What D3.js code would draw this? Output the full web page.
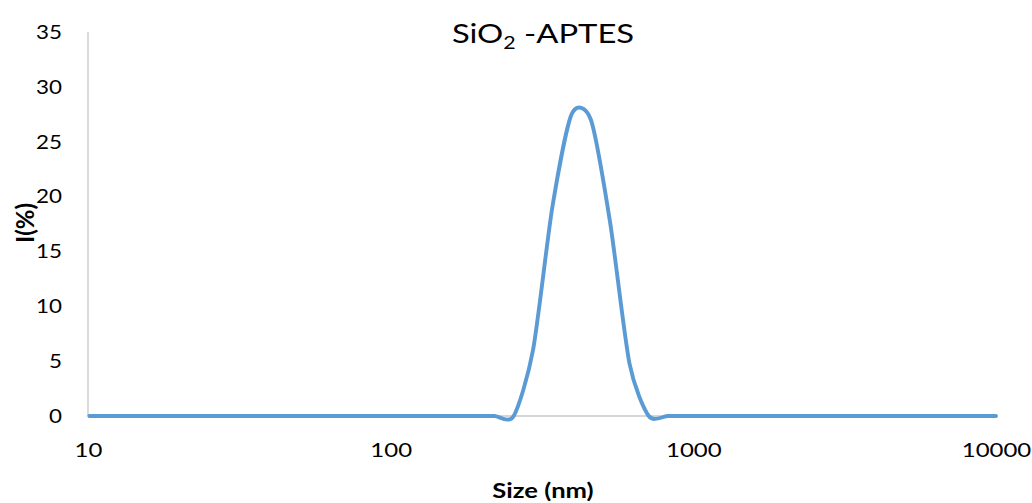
<!DOCTYPE html>
<html>
<head>
<meta charset="utf-8">
<script src="https://cdn.jsdelivr.net/npm/d3@7"></script>
<style>
  html, body { margin: 0; padding: 0; background: #fff; }
  svg { display: block; font-family: Lato, "Open Sans", "Liberation Sans", sans-serif; }
</style>
</head>
<body>
<svg id="chart" width="1032" height="503"></svg>
<script>
// Size distribution bins (nm) and intensity (%)
const sizes = [10.10, 11.70, 13.54, 15.69, 18.17, 21.04, 24.36, 28.21, 32.67, 37.84, 43.82, 50.75,
  58.77, 68.06, 78.82, 91.28, 105.7, 122.4, 141.8, 164.2, 190.1, 220.2, 255.0, 295.3, 342.0,
  396.1, 458.7, 531.2, 615.1, 712.4, 825.0, 955.4, 1106, 1281, 1484, 1718, 1990, 2305, 2669,
  3091, 3580, 4145, 4801, 5560, 6439, 7456, 8635, 10000];
const intensity = [0, 0, 0, 0, 0, 0, 0, 0, 0, 0, 0, 0,
  0, 0, 0, 0, 0, 0, 0, 0, 0, 0, 0, 6.0, 19.0,
  27.5, 27.0, 17.6, 4.8, 0, 0, 0, 0, 0, 0, 0, 0, 0, 0,
  0, 0, 0, 0, 0, 0, 0, 0, 0];
const xTicks = [10, 100, 1000, 10000];
const yTicks = [0, 5, 10, 15, 20, 25, 30, 35];

const sx = 1.2; // horizontal text widening

const svg = d3.select("#chart");
const x = d3.scaleLog().domain([10, 10000]).range([88, 996]);
const y = d3.scaleLinear().domain([0, 35]).range([416, 32]);

// axis lines
svg.append("line").attr("x1", 88).attr("x2", 88).attr("y1", y(35)).attr("y2", y(0))
  .attr("stroke", "#c8c8c8").attr("stroke-width", 1.3);
svg.append("line").attr("x1", x(10)).attr("x2", x(10000)).attr("y1", y(0)).attr("y2", y(0))
  .attr("stroke", "#c8c8c8").attr("stroke-width", 1.3);

// y tick labels
const yAxis = d3.axisLeft(y).tickValues(yTicks).tickSize(0).tickPadding(26);
const gy = svg.append("g").attr("transform", "translate(88,0)").call(yAxis);
gy.select(".domain").remove();
gy.selectAll("text").attr("font-size", 20).attr("fill", "#000")
  .attr("font-family", "Lato, 'Open Sans', sans-serif")
  .attr("x", -26 / 1.12).attr("transform", "scale(1.12,1)");

// x tick labels
const xAxis = d3.axisBottom(x).tickValues(xTicks).tickFormat(d3.format("d")).tickSize(0).tickPadding(27);
const gx = svg.append("g").attr("transform", "translate(0,416)").call(xAxis);
gx.select(".domain").remove();
gx.selectAll("text").attr("font-size", 20).attr("fill", "#000")
  .attr("font-family", "Lato, 'Open Sans', sans-serif")
  .attr("transform", `scale(${sx},1)`);

// series, smoothed
const line = d3.line()
  .x((d, i) => x(sizes[i]))
  .y(d => y(d))
  .curve(d3.curveCardinal.tension(0.25));
svg.append("path").datum(intensity)
  .attr("d", line)
  .attr("fill", "none")
  .attr("stroke", "#5B9BD5")
  .attr("stroke-width", 3.9)
  .attr("stroke-linejoin", "round")
  .attr("stroke-linecap", "round");

// title with subscript
const title = svg.append("text").attr("transform", "translate(543,43) scale(1.26,1)")
  .attr("text-anchor", "middle").attr("font-size", 26).attr("fill", "#000");
title.append("tspan").text("SiO");
title.append("tspan").text("2").attr("font-size", 17).attr("dy", 6);
title.append("tspan").text(" -APTES").attr("dy", -6);

// axis titles
svg.append("text").attr("transform", "translate(543,498) scale(1.28,1)").attr("text-anchor", "middle")
  .attr("font-size", 20).attr("font-weight", "bold").text("Size (nm)");
svg.append("text").attr("transform", "translate(34,223) rotate(-90)")
  .attr("text-anchor", "middle").attr("font-size", 24).attr("font-weight", "bold").text("I(%)");
</script>
</body>
</html>
